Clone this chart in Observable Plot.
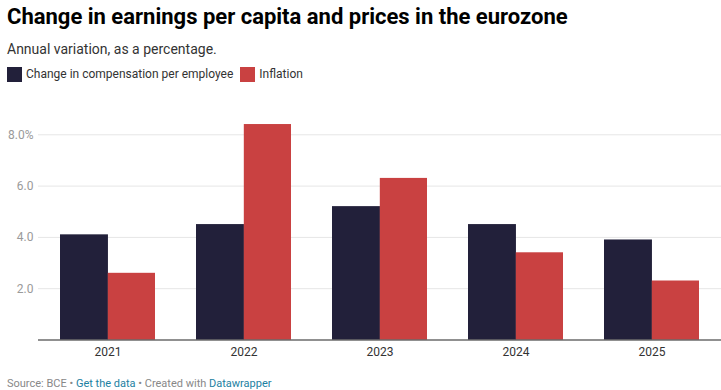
<!DOCTYPE html>
<html>
<head>
<meta charset="utf-8">
<script src="https://cdn.jsdelivr.net/npm/d3@7"></script>
<script src="https://cdn.jsdelivr.net/npm/@observablehq/plot@0.6"></script>
<style>
  html, body { margin: 0; padding: 0; background: #fff; }
  body { width: 721px; height: 390px; position: relative; overflow: hidden; font-family: Roboto, "Noto Sans", sans-serif; }
  .abs { position: absolute; left: 7px; white-space: nowrap; }
  #title { top: 4px; font-size: 22px; line-height: 26px; font-weight: 700; color: #000; }
  #subtitle { top: 40px; font-size: 14px; line-height: 18px; color: #333; }
  #legend { top: 67px; font-size: 12px; line-height: 15px; color: #333; display: flex; align-items: center; }
  #legend .item { display: flex; align-items: center; margin-right: 7px; }
  #legend .sw { width: 15px; height: 15px; margin-right: 4px; }
  #chart { position: absolute; left: 0; top: 90px; }
  #footer { top: 377px; font-size: 11px; line-height: 14px; color: #888; }
  #footer a { color: #1d81a2; text-decoration: none; }
</style>
</head>
<body>
<div id="title" class="abs">Change in earnings per capita and prices in the eurozone</div>
<div id="subtitle" class="abs">Annual variation, as a percentage.</div>
<div id="legend" class="abs"></div>
<div id="chart"></div>
<div id="footer" class="abs">Source: BCE • <a>Get the data</a> • Created with <a>Datawrapper</a></div>
<script>
const years = ["2021", "2022", "2023", "2024", "2025"];
const compensation = [4.1, 4.5, 5.2, 4.5, 3.9];
const inflation = [2.6, 8.4, 6.3, 3.4, 2.3];
const seriesNames = ["Change in compensation per employee", "Inflation"];
const seriesColors = ["#22203a", "#c94141"];
const yTicks = [2, 4, 6, 8];

const rows = years.map((y, i) => ({year: y, comp: compensation[i], infl: inflation[i]}));

// legend
const legend = document.getElementById("legend");
seriesNames.forEach((name, i) => {
  const it = document.createElement("span");
  it.className = "item";
  const sw = document.createElement("span");
  sw.className = "sw";
  sw.style.background = seriesColors[i];
  const tx = document.createElement("span");
  tx.textContent = name;
  it.appendChild(sw); it.appendChild(tx);
  legend.appendChild(it);
});

const W = 721, H = 270, mL = 38, mR = 0, mB = 20.5, mT = 18.65;
const padIn = 0.3, padOut = 0.15;
const step = (W - mL - mR) / (years.length - padIn + 2 * padOut);
const half = step * (1 - padIn) / 2;

const chart = Plot.plot({
  width: W,
  height: H,
  marginLeft: mL,
  marginRight: mR,
  marginTop: mT,
  marginBottom: mB,
  style: {fontFamily: "Roboto, sans-serif", fontSize: "12px", background: "transparent"},
  x: {domain: years, paddingInner: padIn, paddingOuter: padOut, label: null, axis: null},
  y: {domain: [0, 9], label: null, axis: null},
  marks: [
    Plot.ruleY(yTicks, {stroke: "#e6e6e6", strokeWidth: 1}),
    Plot.barY(rows, {x: "year", y: "comp", fill: seriesColors[0], insetRight: half - 0.75}),
    Plot.barY(rows, {x: "year", y: "infl", fill: seriesColors[1], insetLeft: half}),
    Plot.ruleY([0], {stroke: "#222", strokeWidth: 1.2}),
    Plot.axisY(yTicks, {anchor: "left", tickSize: 0, tickPadding: 5, fill: "#9a9a9a",
      tickFormat: d => d === 8 ? d.toFixed(1) + "%" : d.toFixed(1), label: null}),
    Plot.axisX(years, {anchor: "bottom", tickSize: 0, tickPadding: 7, fill: "#333", label: null})
  ]
});
document.getElementById("chart").appendChild(chart);
</script>
</body>
</html>
